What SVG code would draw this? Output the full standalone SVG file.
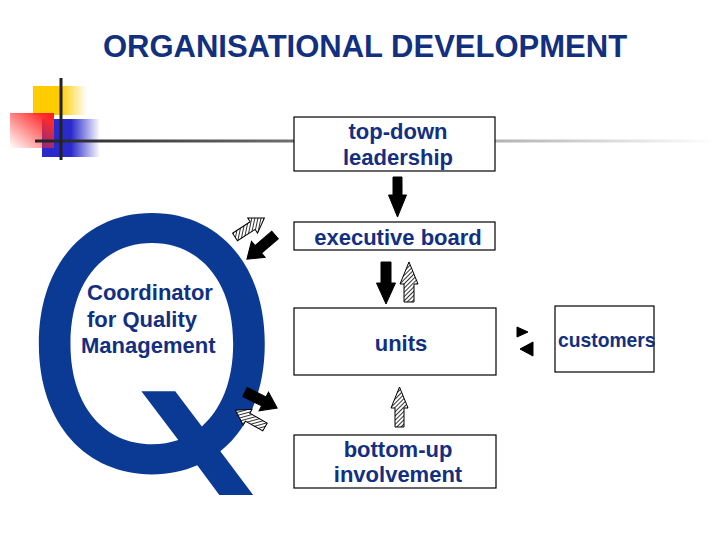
<svg xmlns="http://www.w3.org/2000/svg" width="720" height="540" viewBox="0 0 720 540">
<defs>
<style>
.lbl{font-family:"Liberation Sans",Arial,sans-serif;font-weight:bold;font-size:22px;fill:#12307f}
.box{fill:#fff;stroke:#000;stroke-width:1.2}
.blk{fill:#000;stroke:#000;stroke-width:1}
.hat{fill:url(#hatch);stroke:#000;stroke-width:1}
</style>
<pattern id="hatch" width="3" height="3" patternUnits="userSpaceOnUse" patternTransform="rotate(45)">
<rect width="3" height="3" fill="#fff"/>
<line x1="0.5" y1="0" x2="0.5" y2="3" stroke="#000" stroke-width="0.8"/>
</pattern>
<linearGradient id="gy" x1="0" y1="0" x2="1" y2="0">
<stop offset="0" stop-color="#ffcc00"/><stop offset="0.5" stop-color="#ffcc00"/><stop offset="1" stop-color="#ffcc00" stop-opacity="0"/>
</linearGradient>
<linearGradient id="gb" x1="0" y1="0" x2="1" y2="0">
<stop offset="0" stop-color="#2a2acc"/><stop offset="0.5" stop-color="#2a2acc"/><stop offset="1" stop-color="#2a2acc" stop-opacity="0"/>
</linearGradient>
<linearGradient id="gr" x1="1" y1="0" x2="0" y2="1">
<stop offset="0" stop-color="#ff1a1a"/><stop offset="0.15" stop-color="#ff2a2a"/><stop offset="1" stop-color="#ff2a2a" stop-opacity="0"/>
</linearGradient>
<linearGradient id="gl" x1="0" y1="0" x2="1" y2="0">
<stop offset="0" stop-color="#222"/><stop offset="0.5" stop-color="#888"/><stop offset="1" stop-color="#fff"/>
</linearGradient>
</defs>
<rect width="720" height="540" fill="#fff"/>

<g id="decoration">
<rect x="33" y="86" width="54" height="29" fill="url(#gy)"/>
<rect x="42" y="119" width="58" height="38" fill="url(#gb)"/>
<rect x="10" y="113" width="44" height="35" fill="url(#gr)"/>
<rect x="35" y="139.5" width="680" height="3" fill="url(#gl)"/>
<rect x="59.5" y="78" width="3" height="82" fill="#222"/>
</g>

<text x="365" y="57" text-anchor="middle" style="font-family:'Liberation Sans',Arial,sans-serif;font-weight:bold;font-size:31px;fill:#12307f">ORGANISATIONAL DEVELOPMENT</text>

<g id="q-coordinator">
<text x="18" y="471" style="font-family:Inter,'Liberation Sans',sans-serif;font-weight:400;font-size:350px;fill:#0b3a94">Q</text>
<text class="lbl" x="87" y="300">Coordinator</text>
<text class="lbl" x="87" y="327">for Quality</text>
<text class="lbl" x="81" y="353">Management</text>
</g>

<g id="top-down">
<rect class="box" x="294" y="117" width="201" height="54"/>
<text class="lbl" x="398" y="139" text-anchor="middle">top-down</text>
<text class="lbl" x="398" y="165" text-anchor="middle">leadership</text>
</g>

<g id="executive-board">
<rect class="box" x="294" y="222" width="201" height="28"/>
<text class="lbl" x="398" y="245" text-anchor="middle">executive board</text>
</g>

<g id="units">
<rect class="box" x="294" y="308" width="202" height="67"/>
<text class="lbl" x="401" y="351" text-anchor="middle">units</text>
</g>

<g id="bottom-up">
<rect class="box" x="294" y="435" width="202" height="53"/>
<text class="lbl" x="398" y="457" text-anchor="middle">bottom-up</text>
<text class="lbl" x="398" y="482" text-anchor="middle">involvement</text>
</g>

<g id="customers">
<rect class="box" x="555" y="306" width="99" height="66"/>
<text class="lbl" x="558" y="347" style="font-size:19.3px">customers</text>
</g>

<g id="connectors">
<polygon class="blk" points="393,177 402,177 402,195 406.5,195 397.5,217 388.5,195 393,195"/>
<polygon class="blk" points="381,262 391,262 391,283 395.5,283 386,304 376.5,283 381,283"/>
<polygon class="hat" points="409,262 418,284 414,284 414,302 404,302 404,284 400,284"/>
<polygon class="hat" points="399.5,387 408,408 404,408 404,427 395,427 395,408 391,408"/>
<polygon class="hat" transform="translate(235,237) rotate(-33)" points="0,-4.5 21,-4.5 21,-9 35,0 21,9 21,4.5 0,4.5"/>
<polygon class="blk" transform="translate(275,235) rotate(139.4)" points="0,-5 22,-5 22,-10.5 37,0 22,10.5 22,5 0,5"/>
<polygon class="blk" transform="translate(245,392) rotate(26.6)" points="0,-5 21,-5 21,-10.5 36,0 21,10.5 21,5 0,5"/>
<polygon class="hat" transform="translate(265,427) rotate(209.5)" points="0,-4.5 20,-4.5 20,-9 34,0 20,9 20,4.5 0,4.5"/>
<polygon class="blk" points="517,327 528,332 517,337"/>
<polygon class="blk" points="520,349 533,342 533,356"/>
</g>
</svg>
